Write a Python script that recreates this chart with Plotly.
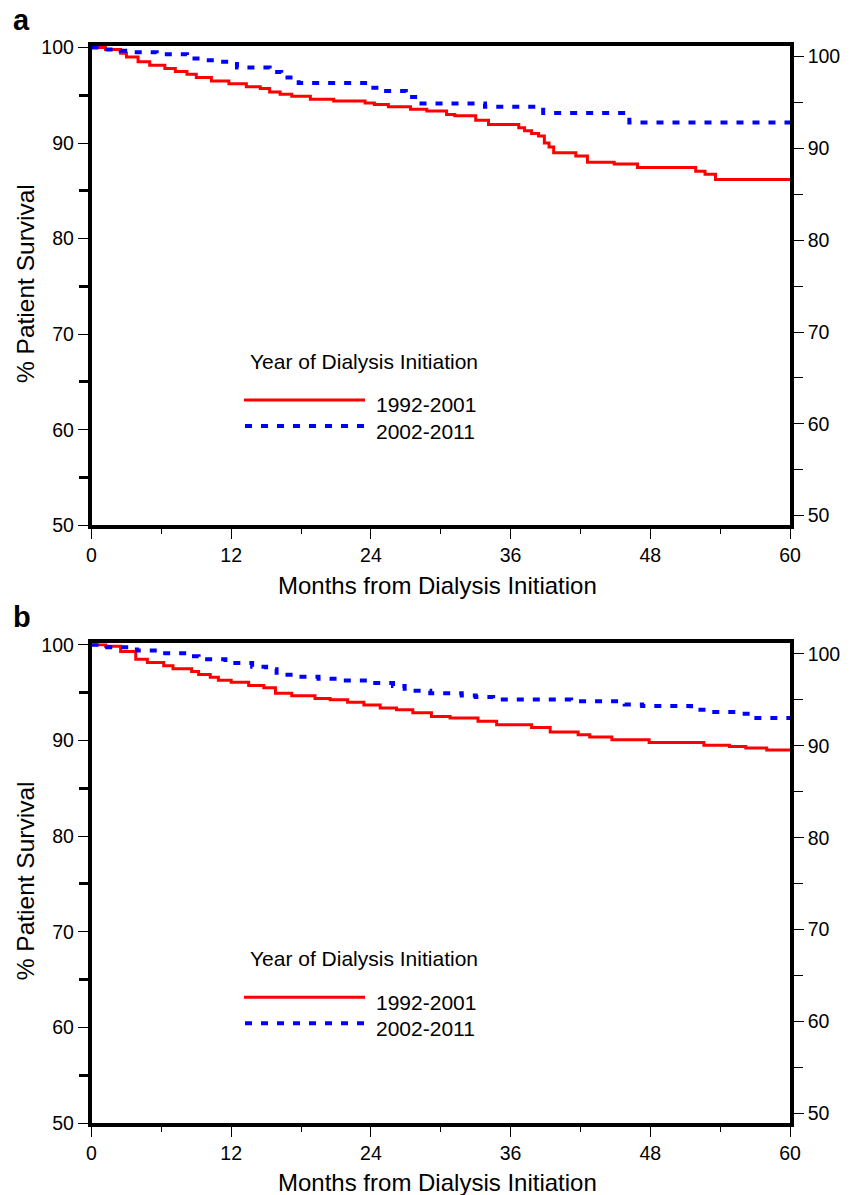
import plotly.graph_objects as go

# ---------------- data (Kaplan-Meier step curves) ----------------
months_ticks = [0, 12, 24, 36, 48, 60]
months_minor = [6, 18, 30, 42, 54]
surv_ticks = [50, 60, 70, 80, 90, 100]
surv_minor = [55, 65, 75, 85, 95]
series_names = ["1992-2001", "2002-2011"]

a_red_t = [0, 1.2, 2.5, 3.0, 4.0, 5.0, 6.3, 7.2, 8.2, 9.0, 10.3, 11.8, 13.3, 14.5, 15.3, 16.2,
           17.2, 18.8, 20.8, 23.5, 24.3, 25.5, 27.4, 28.8, 30.5, 31.2, 33.0, 34.1, 36.7, 37.2,
           37.8, 38.4, 38.9, 39.3, 39.7, 41.6, 42.6, 44.9, 46.9, 51.9, 52.7, 53.6, 60]
a_red_s = [100, 99.8, 99.4, 99.0, 98.5, 98.15, 97.8, 97.5, 97.2, 96.86, 96.5, 96.2, 95.9, 95.7,
           95.35, 95.1, 94.9, 94.6, 94.4, 94.2, 94.05, 93.8, 93.55, 93.35, 93.0, 92.85, 92.4,
           91.95, 91.6, 91.3, 91.0, 90.75, 90.0, 89.6, 89.0, 88.65, 88.0, 87.8, 87.45, 87.06,
           86.75, 86.2, 86.2]

a_blue_t = [0, 0.8, 2.5, 3.2, 5.6, 8.2, 9.4, 10.8, 12.5, 15.3, 16.3, 17.8, 23.5, 24.7, 27.0,
            27.8, 33.8, 38.8, 46.2, 60]
a_blue_s = [100, 99.8, 99.65, 99.5, 99.3, 98.85, 98.67, 98.5, 97.9, 97.45, 96.86, 96.3, 95.8,
            95.46, 94.83, 94.14, 93.8, 93.16, 92.15, 92.15]

b_red_t = [0, 1.2, 2.5, 3.8, 4.8, 6.2, 7.0, 8.6, 9.2, 10.2, 10.9, 12.0, 13.5, 14.8, 15.8, 17.2,
           19.2, 20.5, 22.0, 23.4, 24.8, 26.2, 27.6, 29.2, 30.8, 33.2, 34.8, 37.8, 39.4, 41.8,
           42.8, 44.7, 47.9, 52.6, 54.8, 56.2, 58.0, 60]
b_red_s = [100, 99.85, 99.3, 98.5, 98.15, 97.8, 97.5, 97.2, 96.9, 96.6, 96.3, 96.1, 95.76, 95.5,
           94.95, 94.67, 94.4, 94.27, 94.0, 93.7, 93.4, 93.2, 92.9, 92.5, 92.35, 92.0, 91.64,
           91.36, 90.88, 90.6, 90.35, 90.07, 89.8, 89.5, 89.37, 89.2, 89.0, 89.0]

b_blue_t = [0, 0.8, 3.9, 6.1, 8.6, 9.2, 11.5, 13.8, 15.0, 15.9, 17.1, 19.5, 21.2, 24.2, 25.9,
            26.9, 29.1, 31.8, 33.0, 34.5, 41.2, 45.8, 47.3, 51.5, 52.8, 55.8, 56.8, 60]
b_blue_s = [100, 99.76, 99.4, 99.13, 98.8, 98.5, 98.1, 97.7, 97.45, 96.86, 96.65, 96.45, 96.27,
            96.0, 95.7, 95.2, 94.95, 94.7, 94.55, 94.28, 94.1, 93.76, 93.6, 93.2, 92.97, 92.8,
            92.35, 92.24]

# ---------------- layout helpers ----------------
W, H = 858, 1195
FONT = "Liberation Sans, Arial, Helvetica, sans-serif"
RED, BLUE = "#ff0000", "#0000ff"


def px(x):
    return x / W


def py(y):
    return 1 - y / H


xdom = [px(91.5), px(790)]
panels = [  # (top px, bottom px, letter)
    (46.0, 525.3, "a"),
    (643.3, 1123.0, "b"),
]

fig = go.Figure()

data_sets = [((a_red_t, a_red_s), (a_blue_t, a_blue_s)),
             ((b_red_t, b_red_s), (b_blue_t, b_blue_s))]

for i, ((rt, rs), (bt, bs)) in enumerate(data_sets):
    xa = "x" if i == 0 else "x2"
    yl = "y" if i == 0 else "y3"
    yr = "y2" if i == 0 else "y4"
    fig.add_trace(go.Scatter(x=rt, y=rs, mode="lines", line=dict(color=RED, width=3, shape="hv"),
                             name=series_names[0], xaxis=xa, yaxis=yl, showlegend=False))
    fig.add_trace(go.Scatter(x=bt, y=bs, mode="lines",
                             line=dict(color=BLUE, width=4, shape="hv", dash="7px,9px"),
                             name=series_names[1], xaxis=xa, yaxis=yl, showlegend=False))
    # placeholder so the right-hand axis is drawn
    fig.add_trace(go.Scatter(x=[None], y=[None], xaxis=xa, yaxis=yr, showlegend=False,
                             hoverinfo="skip"))

tickfont = dict(family=FONT, size=19.5, color="black")


def xaxis_cfg(dom_y_anchor):
    return dict(range=[0, 60], domain=xdom, anchor=dom_y_anchor, tickmode="array",
                tickvals=months_ticks, ticks="outside", ticklen=10, tickwidth=1.2,
                tickcolor="black", showline=True, linewidth=3.5, linecolor="black",
                mirror=True, showgrid=False, zeroline=False, tickfont=tickfont,
                automargin=False,
                minor=dict(tickmode="array", tickvals=months_minor, ticks="outside",
                           ticklen=5, tickwidth=1.2, tickcolor="black", showgrid=False),
                fixedrange=True)


def yleft_cfg(dom, anchor):
    return dict(range=[50, 100.16], domain=dom, anchor=anchor, tickmode="array",
                tickvals=surv_ticks, ticks="outside", ticklen=10, tickwidth=1.2,
                tickcolor="black", showline=True, linewidth=3.5, linecolor="black",
                showgrid=False, zeroline=False, tickfont=tickfont, automargin=False,
                minor=dict(tickmode="array", tickvals=surv_minor, ticks="outside",
                           ticklen=9, tickwidth=3, tickcolor="black", showgrid=False),
                fixedrange=True)


def yright_cfg(overlay, anchor):
    return dict(range=[48.95, 101.16], overlaying=overlay, anchor=anchor, side="right",
                tickmode="array", tickvals=surv_ticks, ticks="outside", ticklen=10,
                tickwidth=1.2, tickcolor="black", showline=True, linewidth=3.5,
                linecolor="black", showgrid=False, zeroline=False, tickfont=tickfont,
                automargin=False,
                minor=dict(tickmode="array", tickvals=surv_minor, ticks="outside",
                           ticklen=9, tickwidth=1.2, tickcolor="black", showgrid=False),
                fixedrange=True)


(ta, ba, _), (tb, bb, _) = panels
fig.update_layout(
    width=W, height=H,
    margin=dict(l=0, r=0, t=0, b=0, autoexpand=False),
    paper_bgcolor="white", plot_bgcolor="white",
    font=dict(family=FONT, color="black"),
    showlegend=False,
    xaxis=xaxis_cfg("y"),
    yaxis=yleft_cfg([py(ba), py(ta)], "x"),
    yaxis2=yright_cfg("y", "x"),
    xaxis2=xaxis_cfg("y3"),
    yaxis3=yleft_cfg([py(bb), py(tb)], "x2"),
    yaxis4=yright_cfg("y3", "x2"),
)

annotations = []
shapes = []
for top, bottom, letter in panels:
    off = top - 46.0
    annotations.append(dict(text="<b>%s</b>" % letter, x=px(11), y=py(20 + off), xref="paper",
                            yref="paper", xanchor="left", yanchor="middle", showarrow=False,
                            font=dict(family=FONT, size=29, color="black")))
    annotations.append(dict(text="% Patient Survival", x=px(25), y=py(284 + off), xref="paper",
                            yref="paper", xanchor="center", yanchor="middle", textangle=-90,
                            showarrow=False, font=dict(family=FONT, size=24.5, color="black")))
    annotations.append(dict(text="Months from Dialysis Initiation", x=px(437), y=py(585 + off),
                            xref="paper", yref="paper", xanchor="center", yanchor="middle",
                            showarrow=False, font=dict(family=FONT, size=24, color="black")))
    annotations.append(dict(text="Year of Dialysis Initiation", x=px(248), y=py(361 + off),
                            xref="paper", yref="paper", xanchor="left", yanchor="middle",
                            showarrow=False, font=dict(family=FONT, size=21, color="black")))
    annotations.append(dict(text=series_names[0], x=px(374), y=py(405 + off), xref="paper",
                            yref="paper", xanchor="left", yanchor="middle", showarrow=False,
                            font=dict(family=FONT, size=21, color="black")))
    annotations.append(dict(text=series_names[1], x=px(374), y=py(431 + off), xref="paper",
                            yref="paper", xanchor="left", yanchor="middle", showarrow=False,
                            font=dict(family=FONT, size=21, color="black")))
    shapes.append(dict(type="line", xref="paper", yref="paper", x0=px(244), x1=px(365),
                       y0=py(400 + off), y1=py(400 + off), line=dict(color=RED, width=3)))
    shapes.append(dict(type="line", xref="paper", yref="paper", x0=px(245), x1=px(365),
                       y0=py(426 + off), y1=py(426 + off),
                       line=dict(color=BLUE, width=4, dash="7px,9px")))

fig.update_layout(annotations=annotations, shapes=shapes)

fig.write_html("out.html", config={"displayModeBar": False},
               post_script="document.body.style.margin='0';"
                           "document.body.style.overflow='hidden';")
